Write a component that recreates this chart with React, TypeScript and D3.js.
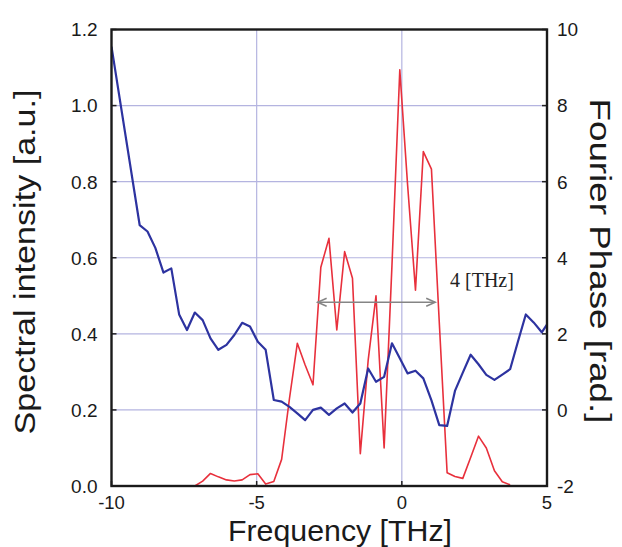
import React from "react";
import * as d3 from "d3";

// ---- Data ----
const phaseFreq = [-10, -9.03, -8.76, -8.49, -8.21, -7.94, -7.67, -7.40, -7.13, -6.86, -6.59, -6.32, -6.04, -5.77, -5.50, -5.23, -4.96, -4.69, -4.41, -4.14, -3.87, -3.60, -3.33, -3.06, -2.79, -2.51, -2.24, -1.97, -1.70, -1.43, -1.16, -0.89, -0.61, -0.34, -0.07, 0.20, 0.47, 0.74, 1.02, 1.29, 1.56, 1.83, 2.10, 2.37, 2.64, 2.91, 3.19, 3.46, 3.73, 4.00, 4.27, 4.54, 4.82, 5.09];
const phase = [9.55, 4.86, 4.69, 4.26, 3.61, 3.72, 2.51, 2.10, 2.56, 2.36, 1.88, 1.58, 1.71, 1.97, 2.29, 2.19, 1.79, 1.58, 0.26, 0.22, 0.08, -0.09, -0.27, 0.0, 0.06, -0.13, 0.04, 0.17, -0.07, 0.17, 1.09, 0.74, 0.87, 1.75, 1.36, 0.96, 1.03, 0.83, 0.25, -0.40, -0.42, 0.50, 0.98, 1.45, 1.20, 0.92, 0.79, 0.93, 1.07, 1.80, 2.51, 2.30, 2.04, 2.35];

const intensityFreq = [-7.13, -6.86, -6.59, -6.32, -6.04, -5.77, -5.50, -5.23, -4.96, -4.69, -4.41, -4.14, -3.87, -3.60, -3.33, -3.06, -2.79, -2.51, -2.24, -1.97, -1.70, -1.43, -1.16, -0.89, -0.61, -0.34, -0.07, 0.20, 0.47, 0.74, 1.02, 1.29, 1.56, 1.83, 2.10, 2.37, 2.64, 2.91, 3.19, 3.46, 3.73];
const intensity = [0.0, 0.013, 0.033, 0.024, 0.016, 0.013, 0.016, 0.030, 0.032, 0.005, 0.012, 0.070, 0.23, 0.375, 0.318, 0.266, 0.575, 0.651, 0.41, 0.616, 0.546, 0.085, 0.33, 0.50, 0.10, 0.58, 1.094, 0.79, 0.515, 0.879, 0.833, 0.43, 0.035, 0.025, 0.02, 0.075, 0.131, 0.10, 0.040, 0.011, 0.003];

const xTicks = [-10, -5, 0, 5];
const leftTicks = [0, 0.2, 0.4, 0.6, 0.8, 1.0, 1.2];
const rightTicks = [-2, 0, 2, 4, 6, 8, 10];
const xGrid = [-5, 0];
const yGrid = [0.2, 0.4, 0.6, 0.8, 1.0];

const arrowSpan = [-2.9, 1.15];
const arrowLevel = 0.483;
const annotationText = "4 [THz]";
const annotationPos = [1.66, 0.523];

export default function App() {
  const W = 622, H = 547;
  const L = 111.5, R = 547, T = 29.5, B = 486;
  const x = d3.scaleLinear().domain([-10, 5]).range([L, R]);
  const yL = d3.scaleLinear().domain([0, 1.2]).range([B, T]);
  const yR = d3.scaleLinear().domain([-2, 10]).range([B, T]);

  const phaseLine = d3.line<number>()
    .x((_, i) => x(phaseFreq[i]))
    .y((d) => yR(d));
  const intLine = d3.line<number>()
    .x((_, i) => x(intensityFreq[i]))
    .y((d) => yL(d));

  const gridColor = "#b4b4e0";
  const sans = "'Liberation Sans', Arial, sans-serif";
  const ax1 = x(arrowSpan[0]), ax2 = x(arrowSpan[1]), ay = yL(arrowLevel);

  return (
    <svg width={W} height={H} style={{ position: "absolute", left: 0, top: 0, background: "#fff" }}>
      <defs>
        <clipPath id="plot">
          <rect x={L} y={T} width={R - L} height={B - T} />
        </clipPath>
      </defs>
      <rect x={0} y={0} width={W} height={H} fill="#fff" />
      {/* grid */}
      {yGrid.map((v) => (
        <line key={"gy" + v} x1={L} x2={R} y1={yL(v)} y2={yL(v)} stroke={gridColor} strokeWidth={1.2} />
      ))}
      {xGrid.map((v) => (
        <line key={"gx" + v} x1={x(v)} x2={x(v)} y1={T} y2={B} stroke={gridColor} strokeWidth={1.2} />
      ))}
      {/* curves */}
      <g clipPath="url(#plot)">
        <path d={intLine(intensity) || ""} fill="none" stroke="#e8303c" strokeWidth={1.6} strokeLinejoin="round" />
        <path d={phaseLine(phase) || ""} fill="none" stroke="#2d33a0" strokeWidth={2.2} strokeLinejoin="round" />
      </g>
      {/* annotation arrow */}
      <g stroke="#858585" strokeWidth={1.5} fill="none">
        <line x1={ax1} x2={ax2} y1={ay} y2={ay} />
        <polyline points={`${ax1 + 9},${ay - 4} ${ax1},${ay} ${ax1 + 9},${ay + 4}`} />
        <polyline points={`${ax2 - 9},${ay - 4} ${ax2},${ay} ${ax2 - 9},${ay + 4}`} />
      </g>
      <text x={x(annotationPos[0])} y={yL(annotationPos[1])} fontFamily="'Liberation Serif', 'Times New Roman', serif" fontSize={20} fill="#222">
        {annotationText}
      </text>
      {/* ticks */}
      {leftTicks.map((v) => (
        <line key={"lt" + v} x1={L} x2={L + 5} y1={yL(v)} y2={yL(v)} stroke="#222" strokeWidth={1.5} />
      ))}
      {rightTicks.map((v) => (
        <line key={"rt" + v} x1={R - 5} x2={R} y1={yR(v)} y2={yR(v)} stroke="#222" strokeWidth={1.5} />
      ))}
      {xTicks.map((v) => (
        <line key={"bt" + v} x1={x(v)} x2={x(v)} y1={B} y2={B - 5} stroke="#222" strokeWidth={1.5} />
      ))}
      {/* frame */}
      <rect x={L} y={T} width={R - L} height={B - T} fill="none" stroke="#1a1a1a" strokeWidth={2.4} />
      {/* tick labels */}
      {leftTicks.map((v) => (
        <text key={"ll" + v} x={L - 14} y={yL(v)} dy="0.36em" textAnchor="end" fontFamily={sans} fontSize={19} fill="#1a1a1a">
          {v.toFixed(1)}
        </text>
      ))}
      {rightTicks.map((v) => (
        <text key={"rl" + v} x={R + 10} y={yR(v)} dy="0.36em" textAnchor="start" fontFamily={sans} fontSize={19} fill="#1a1a1a">
          {String(v)}
        </text>
      ))}
      {xTicks.map((v) => (
        <text key={"xl" + v} x={x(v)} y={B + 23} textAnchor="middle" fontFamily={sans} fontSize={18.5} fill="#1a1a1a">
          {String(v)}
        </text>
      ))}
      {/* axis titles */}
      <text x={340} y={541} textAnchor="middle" fontFamily={sans} fontSize={29} textLength={224} lengthAdjust="spacingAndGlyphs" fill="#1a1a1a">
        Frequency [THz]
      </text>
      <text transform={`translate(35,262) rotate(-90)`} textAnchor="middle" fontFamily={sans} fontSize={30} textLength={345} lengthAdjust="spacingAndGlyphs" fill="#1a1a1a">
        Spectral intensity [a.u.]
      </text>
      <text transform={`translate(590,261) rotate(90)`} textAnchor="middle" fontFamily={sans} fontSize={30} textLength={325} lengthAdjust="spacingAndGlyphs" fill="#1a1a1a">
        Fourier Phase [rad.]
      </text>
    </svg>
  );
}
